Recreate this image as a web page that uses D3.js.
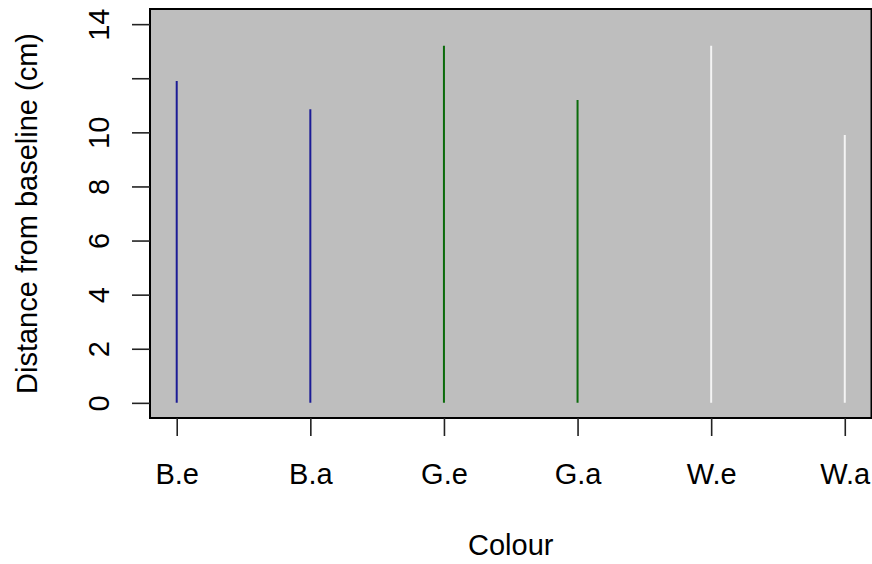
<!DOCTYPE html>
<html>
<head>
<meta charset="utf-8">
<script src="https://cdn.jsdelivr.net/npm/d3@7"></script>
<style>
  body { margin: 0; background: #fff; }
  text { font-family: "Liberation Sans", Arial, sans-serif; fill: #000; }
</style>
</head>
<body>
<script>
// data
const categories = ["B.e", "B.a", "G.e", "G.a", "W.e", "W.a"];
const distances = [11.9, 10.85, 13.2, 11.2, 13.2, 9.9];
const lineColours = ["#1c1c96", "#1c1c96", "#0b6b0b", "#0b6b0b", "#f4f4f4", "#f4f4f4"];
const yTicks = [0, 2, 4, 6, 8, 10, 12, 14];
const yTickLabels = ["0", "2", "4", "6", "8", "10", "", "14"]; // R drops the 12

const W = 872, H = 564;
const box = {left: 150, right: 871.5, top: 9, bottom: 418};
const fontSize = 29;

const svg = d3.select("body").append("svg")
  .attr("width", W)
  .attr("height", H);

// scales: R pads the range by 4% either side
const x = d3.scalePoint()
  .domain(categories)
  .range([box.left, box.right])
  .padding(0.2);

const y = d3.scaleLinear()
  .domain([-0.56, 14.56])
  .range([box.bottom, box.top]);

// plot background
svg.append("rect")
  .attr("x", box.left)
  .attr("y", box.top)
  .attr("width", box.right - box.left)
  .attr("height", box.bottom - box.top)
  .attr("fill", "#bebebe");

// the "h" type lines
svg.selectAll("line.spike")
  .data(distances)
  .enter()
  .append("line")
  .attr("class", "spike")
  .attr("x1", (d, i) => x(categories[i]))
  .attr("x2", (d, i) => x(categories[i]))
  .attr("y1", y(0))
  .attr("y2", d => y(d))
  .attr("stroke", (d, i) => lineColours[i])
  .attr("stroke-width", 2);

// box
svg.append("rect")
  .attr("x", box.left)
  .attr("y", box.top)
  .attr("width", box.right - box.left)
  .attr("height", box.bottom - box.top)
  .attr("fill", "none")
  .attr("stroke", "#000")
  .attr("stroke-width", 2);

// x axis
const xAxis = d3.axisBottom(x).tickSizeOuter(0).tickSize(18).tickPadding(0).tickFormat(() => "");
const gx = svg.append("g")
  .attr("transform", "translate(0," + box.bottom + ")")
  .call(xAxis);
gx.select(".domain").remove();
gx.selectAll(".tick line").attr("stroke", "#222").attr("stroke-width", 1.6);
gx.selectAll(".tick").append("text")
  .attr("y", 484 - box.bottom)
  .attr("text-anchor", "middle")
  .style("font-size", fontSize + "px")
  .text(d => d);

// y axis
const yAxis = d3.axisLeft(y).tickValues(yTicks).tickSizeOuter(0).tickSize(18).tickFormat(() => "");
const gy = svg.append("g")
  .attr("transform", "translate(" + box.left + ",0)")
  .call(yAxis);
gy.select(".domain").remove();
gy.selectAll(".tick line").attr("stroke", "#222").attr("stroke-width", 1.6);
gy.selectAll(".tick").append("text")
  .attr("transform", "translate(" + (109 - box.left) + ",0) rotate(-90)")
  .attr("text-anchor", "middle")
  .style("font-size", fontSize + "px")
  .text((d, i) => yTickLabels[i]);

// axis titles
svg.append("text")
  .attr("x", (box.left + box.right) / 2)
  .attr("y", 555)
  .attr("text-anchor", "middle")
  .style("font-size", fontSize + "px")
  .text("Colour");

svg.append("text")
  .attr("transform", "translate(37," + (box.top + box.bottom) / 2 + ") rotate(-90)")
  .attr("text-anchor", "middle")
  .style("font-size", fontSize + "px")
  .text("Distance from baseline (cm)");
</script>
</body>
</html>
